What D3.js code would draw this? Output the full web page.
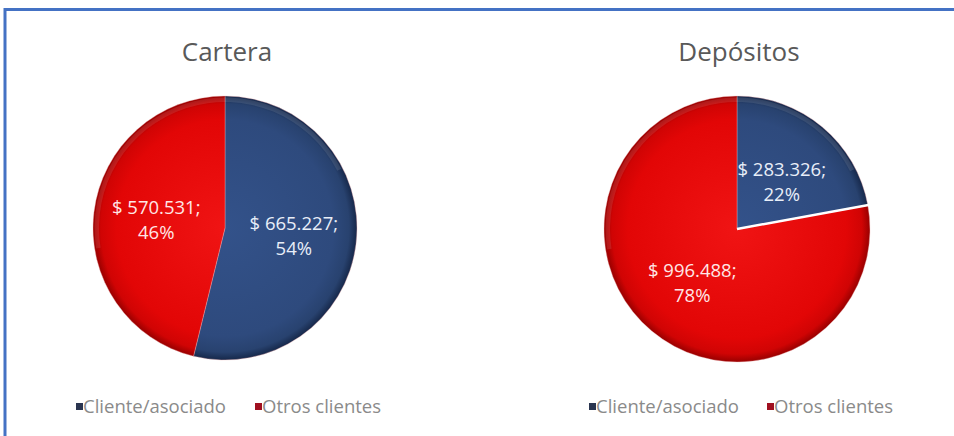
<!DOCTYPE html>
<html>
<head>
<meta charset="utf-8">
<script src="https://cdn.jsdelivr.net/npm/d3@7"></script>
<style>
  html, body { margin: 0; padding: 0; background: #ffffff; overflow: hidden; }
  svg { display: block; }
</style>
</head>
<body>
<svg id="chart" width="954" height="436"></svg>
<script>
// ---- data ----
const categories = ["Cliente/asociado", "Otros clientes"];
const chartTitles = ["Cartera", "Depósitos"];
const carteraValues = [665227, 570531];
const depositosValues = [283326, 996488];

const svg = d3.select("#chart");
const W = 954, H = 436;

svg.append("rect").attr("width", W).attr("height", H).attr("fill", "#ffffff");

// outer blue frame (top and left edges visible)
svg.append("path")
  .attr("d", `M5,${H + 5} L5,9.5 L${W + 5},9.5`)
  .attr("fill", "none").attr("stroke", "#4472C4").attr("stroke-width", 3);

const defs = svg.append("defs");

function makeGrad(id, r, stops) {
  const g = defs.append("radialGradient").attr("id", id)
    .attr("gradientUnits", "userSpaceOnUse")
    .attr("cx", 0).attr("cy", 0).attr("r", r);
  stops.forEach(s => g.append("stop").attr("offset", s[0]).attr("stop-color", s[1]));
}

const fmt = v => "$ " + d3.format(",")(v).replace(/,/g, ".") + ";";

const pies = [
  { title: chartTitles[0], values: carteraValues, cx: 225, cy: 228, r: 132, gap: false,
    legendX: [76, 255] },
  { title: chartTitles[1], values: depositosValues, cx: 737, cy: 229, r: 133, gap: true,
    legendX: [589, 767] }
];

const fontFam = "'Open Sans', 'Noto Sans', sans-serif";

pies.forEach((p, pi) => {
  const g = svg.append("g").attr("transform", `translate(${p.cx},${p.cy})`);

  makeGrad(`blue${pi}`, p.r, [[0, "#33528A"], [0.82, "#2E4A7D"], [0.94, "#28426F"], [1, "#16284A"]]);
  makeGrad(`red${pi}`, p.r, [[0, "#F01414"], [0.82, "#E20606"], [0.94, "#D00404"], [1, "#980000"]]);

  const pie = d3.pie().sort(null).value(d => d);
  const arcs = pie(p.values);
  const arc = d3.arc().innerRadius(0).outerRadius(p.r);
  const labelArc = d3.arc().innerRadius(0).outerRadius(p.r * 1.05);

  g.selectAll("path.slice").data(arcs).enter().append("path")
    .attr("class", "slice")
    .attr("d", arc)
    .attr("fill", (d, i) => i === 0 ? `url(#blue${pi})` : `url(#red${pi})`)
    .attr("stroke", "#f0b0b0").attr("stroke-width", 0.6).attr("stroke-opacity", 0.6);

  // subtle highlight rim on upper edge
  const rim = d3.arc().innerRadius(p.r - 6).outerRadius(p.r - 1.5);
  g.append("path")
    .attr("d", rim({ startAngle: -Math.PI * 0.55, endAngle: Math.PI * 0.35 }))
    .attr("fill", "#ffffff").attr("opacity", 0.1);

  if (p.gap) {
    const a = arcs[0].endAngle;
    g.append("line")
      .attr("x1", 0).attr("y1", 0)
      .attr("x2", Math.sin(a) * (p.r + 2)).attr("y2", -Math.cos(a) * (p.r + 2))
      .attr("stroke", "#ffffff").attr("stroke-width", 2.5);
  }

  const total = d3.sum(p.values);
  arcs.forEach((d, i) => {
    const [lx, ly] = labelArc.centroid(d);
    const shift = (p.gap && i === 0) ? 7 : 0;
    const t = g.append("text")
      .attr("text-anchor", "middle")
      .attr("fill", i === 0 ? "#E8EEF8" : "#FFE6E6")
      .attr("font-family", fontFam)
      .attr("font-size", 18.5);
    t.append("tspan").attr("x", lx).attr("y", ly - 6 + shift).text(fmt(d.data));
    t.append("tspan").attr("x", lx).attr("y", ly + 19 + shift).text(Math.round(d.data / total * 100) + "%");
  });

  // title
  svg.append("text")
    .attr("x", p.cx + 2).attr("y", 61)
    .attr("text-anchor", "middle")
    .attr("fill", "#595959")
    .attr("font-family", fontFam)
    .attr("font-size", 26)
    .text(p.title);

  // legend
  categories.forEach((c, i) => {
    const x = p.legendX[i];
    svg.append("rect")
      .attr("x", x).attr("y", 403).attr("width", 7).attr("height", 7)
      .attr("fill", i === 0 ? "#2A3550" : "#A01020");
    svg.append("text")
      .attr("x", x + 7).attr("y", 413)
      .attr("fill", "#8A8A8A")
      .attr("font-family", fontFam)
      .attr("font-size", 18.5)
      .text(c);
  });
});
</script>
</body>
</html>
